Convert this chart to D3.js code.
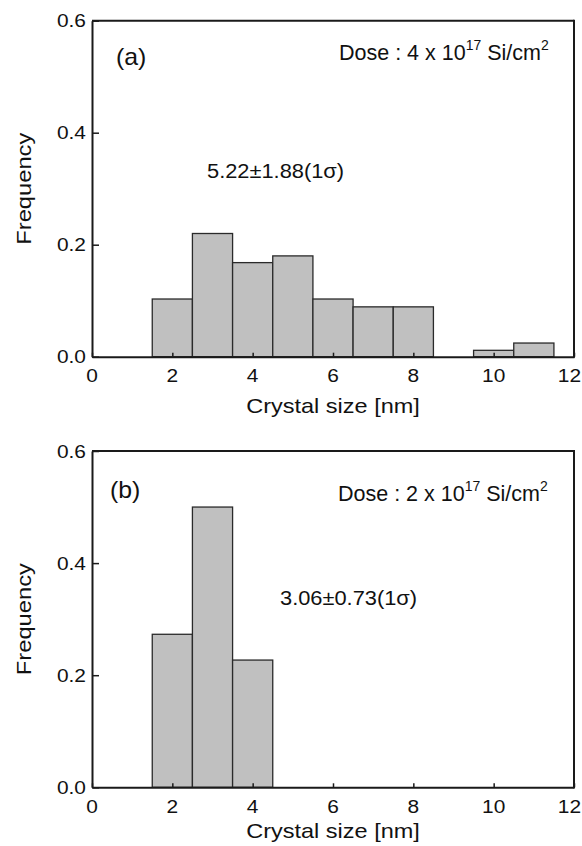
<!DOCTYPE html>
<html>
<head>
<meta charset="utf-8">
<script src="https://cdn.jsdelivr.net/npm/d3@7"></script>
<style>
  html, body { margin: 0; padding: 0; background: #fff; }
  svg { display: block; font-family: "Liberation Sans", Arial, sans-serif; }
</style>
</head>
<body>
<svg id="chart" width="582" height="846"></svg>
<script>
// ---- data ----
const binCentersA = [2, 3, 4, 5, 6, 7, 8, 9, 10, 11];
const frequencyA  = [0.103, 0.220, 0.168, 0.180, 0.103, 0.089, 0.089, 0.0, 0.0114, 0.0244];
const binCentersB = [2, 3, 4];
const frequencyB  = [0.273, 0.500, 0.227];
const binWidth = 1;
const xTicks = [0, 2, 4, 6, 8, 10, 12];
const yTicks = [0.0, 0.2, 0.4, 0.6];
const panelLabels = ["(a)", "(b)"];
const doseValues = ["4", "2"];
const statLabels = ["5.22\u00b11.88(1\u03c3)", "3.06\u00b10.73(1\u03c3)"];
const xLabel = "Crystal size [nm]";
const yLabel = "Frequency";

// ---- layout ----
const svg = d3.select("#chart");
const W = 582, H = 846;
const left = 92, right = 574;
const panels = [
  { top: 20.7, bottom: 356.7, bins: binCentersA, freq: frequencyA, xLabOff: 56,
    lab: { x: 116, y: 65 }, dose: { x: 339, y: 60 }, stat: { x: 207, y: 178 } },
  { top: 451, bottom: 787.3, bins: binCentersB, freq: frequencyB, xLabOff: 51,
    lab: { x: 110, y: 498 }, dose: { x: 338, y: 501 }, stat: { x: 280, y: 605 } }
];

function addText(g, x, y, str, size, sx, anchor) {
  return g.append("text")
    .attr("transform", `translate(${x},${y}) scale(${sx},1)`)
    .attr("text-anchor", anchor || "start")
    .attr("font-size", size)
    .attr("fill", "#111")
    .text(str);
}

panels.forEach((p, i) => {
  const x = d3.scaleLinear().domain([0, 12]).range([left, right]);
  const y = d3.scaleLinear().domain([0, 0.6]).range([p.bottom, p.top]);
  const g = svg.append("g");

  // bars
  g.selectAll("rect.bar")
    .data(p.bins.map((c, k) => ({ c, f: p.freq[k] })).filter(d => d.f > 0))
    .enter().append("rect")
    .attr("class", "bar")
    .attr("x", d => x(d.c - binWidth / 2))
    .attr("width", d => x(d.c + binWidth / 2) - x(d.c - binWidth / 2))
    .attr("y", d => y(d.f))
    .attr("height", d => y(0) - y(d.f))
    .attr("fill", "#c0c0c0")
    .attr("stroke", "#2a2a2a")
    .attr("stroke-width", 1.3);

  // axes with inward ticks
  const xAxis = d3.axisBottom(x).tickValues(xTicks).tickSizeInner(-4).tickSizeOuter(0).tickFormat("");
  const yAxis = d3.axisLeft(y).tickValues(yTicks).tickSizeInner(-7).tickSizeOuter(0).tickFormat("");
  const gx = g.append("g").attr("transform", `translate(0,${y(0)})`).call(xAxis);
  const gy = g.append("g").attr("transform", `translate(${left},0)`).call(yAxis);
  [gx, gy].forEach(a => {
    a.select(".domain").attr("stroke", "#1a1a1a").attr("stroke-width", 2);
    a.selectAll(".tick line").attr("stroke", "#1a1a1a").attr("stroke-width", 1.5);
  });

  // frame top and right
  g.append("line").attr("x1", left).attr("x2", right).attr("y1", y(0.6)).attr("y2", y(0.6))
    .attr("stroke", "#1a1a1a").attr("stroke-width", 2);
  g.append("line").attr("x1", right).attr("x2", right).attr("y1", y(0.6) - 1).attr("y2", y(0) + 1)
    .attr("stroke", "#1a1a1a").attr("stroke-width", 2);

  // tick labels (keep the last one inside the page)
  xTicks.forEach(t => {
    const cx = Math.min(x(t), W - 12.5);
    addText(g, cx, y(0) + 25.5, String(t), 19, 1.1, "middle");
  });
  yTicks.forEach(t => addText(g, left - 6, y(t) + 6.7, d3.format(".1f")(t), 19, 1.1, "end"));

  // axis labels
  addText(g, (left + right) / 2, y(0) + p.xLabOff, xLabel, 21, 1.12, "middle");
  g.append("text")
    .attr("transform", `translate(31,${(p.top + p.bottom) / 2}) rotate(-90) scale(1.13,1)`)
    .attr("text-anchor", "middle")
    .attr("font-size", 21)
    .attr("fill", "#111")
    .text(yLabel);

  // annotations
  addText(g, p.lab.x, p.lab.y, panelLabels[i], 23, 1.08, "start");
  addText(g, p.stat.x, p.stat.y, statLabels[i], 19.5, 1.12, "start");

  const dose = g.append("text")
    .attr("transform", `translate(${p.dose.x},${p.dose.y})`)
    .attr("font-size", 21.5)
    .attr("fill", "#111");
  dose.append("tspan").text(`Dose : ${doseValues[i]} x 10`);
  dose.append("tspan").attr("font-size", 14).attr("dy", -10).text("17");
  dose.append("tspan").attr("dy", 10).text(" Si/cm");
  dose.append("tspan").attr("font-size", 14).attr("dy", -10).text("2");
});
</script>
</body>
</html>
